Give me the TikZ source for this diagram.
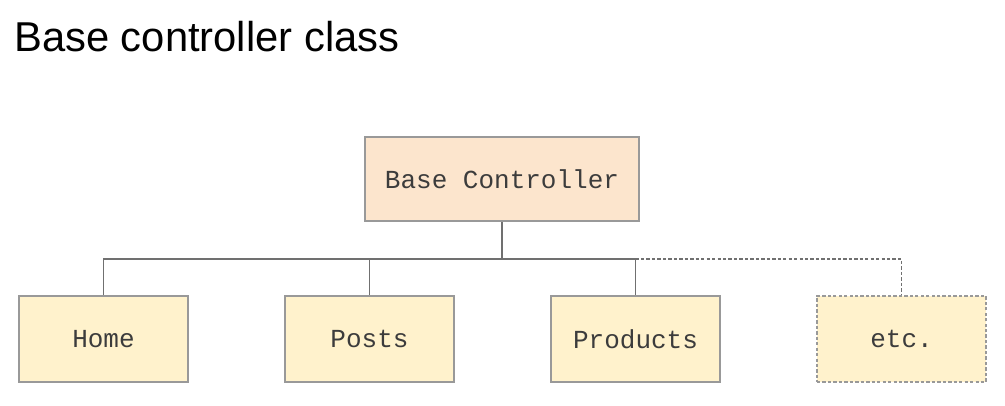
\documentclass[tikz,border=0pt]{standalone}
\usepackage{fontspec}
\setmainfont{Liberation Sans}
\newfontfamily\boxfont{Liberation Mono}
\usetikzlibrary{positioning}
\definecolor{baseFill}{HTML}{FCE5CD}
\definecolor{subFill}{HTML}{FFF2CC}
\definecolor{edgeGray}{HTML}{999999}
\definecolor{lineGray}{HTML}{707070}
\definecolor{textGray}{HTML}{3C3C3C}

\begin{document}
\begin{tikzpicture}[x=0.75pt, y=-0.75pt,
    classbox/.style={draw=edgeGray, line width=1.2pt, fill=subFill, minimum width=126.75pt,
        minimum height=64.5pt, inner sep=0pt, text=textGray,
        font=\boxfont\fontsize{19.5}{22}\selectfont},
    link/.style={draw=lineGray, line width=0.9pt}]
    % Rahmen
    \useasboundingbox (0,0) rectangle (1005,406);

    % Titel
    \node[anchor=base west, inner sep=0pt, font=\fontsize{31.3}{35}\selectfont] (title) at (14,52) {Base controller class};

    % Basisklasse
    \node[classbox, fill=baseFill, minimum width=205.5pt, minimum height=63pt] (base) at (502,179) {Base Controller};

    % Unterklassen
    \node[classbox] (home) at (103.5,339) {Home};
    \node[classbox] (posts) at (369.5,339) {Posts};
    \node[classbox] (prod) at (635.5,339) {Products};
    \node[classbox, dash pattern=on 2.5pt off 1.6pt] (etc) at (901.5,339) {etc.};

    % Verbindungen
    \coordinate (bus) at (502,259);
    \draw[link] (base.south) -- (bus);
    \draw[link] (home.north) -- (home.north |- bus) -- (prod.north |- bus) -- (prod.north);
    \draw[link] (posts.north) -- (posts.north |- bus);
    \draw[link, dash pattern=on 2.5pt off 1.6pt] (prod.north |- bus) -| (etc.north);

\end{tikzpicture}
\end{document}
